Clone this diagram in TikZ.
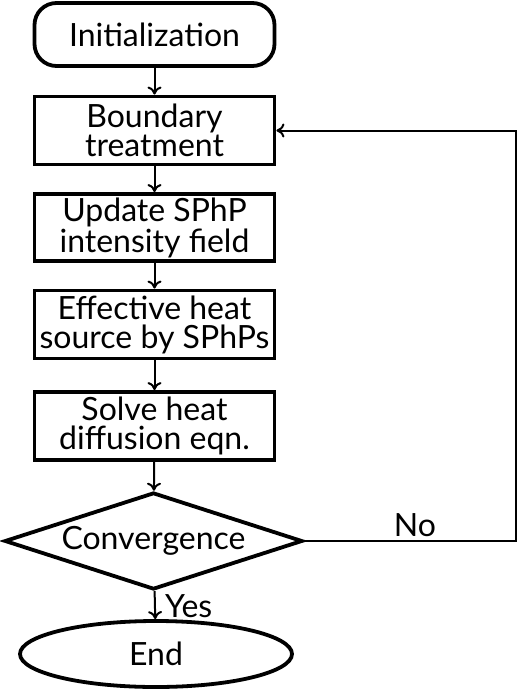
\documentclass[tikz,border=0pt]{standalone}
\usepackage{fontspec}
\setmainfont{Lato}
\usetikzlibrary{shapes.geometric, arrows.meta}
\tikzset{
	stepbox/.style = {draw, line width = 1.9pt, minimum width = 120pt, minimum height = 34pt, inner sep = 0pt, align = center},
	flow/.style = {-{To[length = 4pt, width = 7pt]}, line width = 1pt}
}

\begin{document}
\begin{tikzpicture}[x = 0.5pt, y = -0.5pt,
	every node/.style = {font = \fontsize{16}{14.5}\selectfont}]
			\useasboundingbox (0, 0) rectangle (520, 690);
			% Steps of the loop
			\node[stepbox, rounded corners = 11pt, minimum height = 31.5pt] (init) at (154.5, 34.5) {Initialization};
			\node[stepbox] (bound) at (154.5, 130.5) {Boundary\\treatment};
			\node[stepbox, minimum height = 33.5pt] (update) at (154.5, 227.5) {Update SPhP\\intensity field};
			\node[stepbox] (source) at (154.5, 324.5) {Effective heat\\source by SPhPs};
			\node[stepbox] (solve) at (154.5, 426) {Solve heat\\diffusion eqn.};
			\node[draw, diamond, line width = 1.9pt, aspect = 3, inner sep = 0pt,
				minimum width = 149pt, minimum height = 48.5pt] (conv) at (153.5, 541) {Convergence};
			\node[draw, ellipse, line width = 1.9pt, minimum width = 136pt, minimum height = 33pt] (end) at (156, 654) {End};
			% Arrows
			\draw[flow] (init) -- (bound);
			\draw[flow] (bound) -- (update);
			\draw[flow] (update) -- (source);
			\draw[flow] (source) -- (solve);
			\draw[flow] (solve) -- (conv);
			\draw[flow] (conv) -- (end);
			\node[right] (yes) at (158, 606) {Yes};
			% Back to the boundary
			\coordinate (loop) at (516, 541);
			\draw[flow] (conv.east) -- (loop) |- (bound.east);
			\node (no) at (415, 525) {No};
		\end{tikzpicture}
\end{document}
